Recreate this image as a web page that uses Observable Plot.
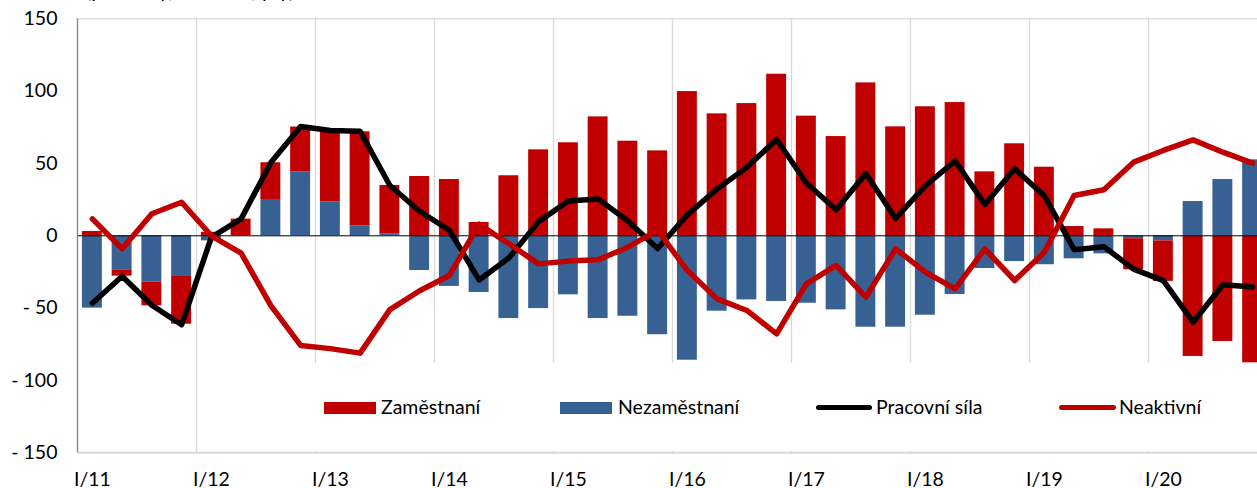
<!DOCTYPE html>
<html>
<head>
<meta charset="utf-8">
<script src="https://cdn.jsdelivr.net/npm/d3@7"></script>
<script src="https://cdn.jsdelivr.net/npm/@observablehq/plot@0.6"></script>
<style>
  html, body { margin: 0; padding: 0; background: #fff; overflow: hidden; }
  #wrap { position: relative; width: 1257px; height: 488px; overflow: hidden; font-family: Lato, "Open Sans", sans-serif; }
  #chart { position: absolute; left: 0; top: 0; width: 1277px; height: 488px; }
  #chart svg { max-width: none !important; width: 1277px !important; height: 488px !important; display: block; }
  #title { position: absolute; left: 86px; top: -20px; font-size: 20px; line-height: 20px; white-space: nowrap; color: #000; }
  #legend { position: absolute; left: 250px; top: 363px; width: 1010px; height: 88px; background: #fff; }
  .lg { position: absolute; }
  .lt { position: absolute; font-size: 19.5px; line-height: 20px; color: #000; white-space: nowrap; }
  svg text { font-family: Lato, "Open Sans", sans-serif; }
</style>
</head>
<body>
<div id="wrap">
  <div id="chart"></div>
  <div id="title">(přírůstky, tis. osob, y/y)</div>
  <div id="legend"></div>
</div>
<script>
// ---- data ----
const quarters = [];
const romans = ["I", "II", "III", "IV"];
const years = ["11", "12", "13", "14", "15", "16", "17", "18", "19", "20"];
for (const yy of years) for (const r of romans) quarters.push(r + "/" + yy);

const zamestnani = [3, -4.4, -16.4, -33.5, 2.4, 11.5, 25.4, 31, 48.6, 65, 33.4, 41, 38.9, 9.2, 41.5, 59.4, 64.3, 82.2, 65.4, 58.7, 99.7, 84.3, 91.4, 111.7, 82.7, 68.6, 105.7, 75.3, 89.2, 92.1, 44.2, 63.6, 47.4, 6.4, 4.8, -21.5, -28, -83.4, -73.1, -87.8];
const nezamestnani = [-50, -23.5, -32, -27.6, -3.5, 0, 25.1, 44.2, 23.5, 6.9, 1.4, -24, -35, -39.2, -57.2, -50.3, -40.8, -57.2, -55.6, -68.4, -86, -52.1, -44.3, -45.4, -46.6, -51.2, -63.2, -63.2, -54.9, -40.6, -22.6, -17.8, -20, -15.9, -12.5, -2, -3.5, 23.7, 38.9, 52.5];
const pracovniSila = [-46.6, -27.9, -48, -61.5, -1, 11.7, 50.6, 75.6, 72.8, 72.3, 34.8, 17, 3.8, -30.5, -15.3, 9.8, 24, 25.5, 10.2, -8.8, 14.5, 32.4, 47.3, 66.7, 36.5, 18, 43, 12, 34.6, 51.8, 21.6, 46.3, 27.7, -9.6, -7.5, -23, -31, -59.7, -33.8, -35.4];
const neaktivni = [11.7, -9, 15.2, 23.2, 0, -12, -48.2, -75.8, -78, -81.1, -51, -38, -27.4, 8, -5.5, -19.4, -17.5, -16.6, -7.9, 3.7, -24, -43.6, -51.6, -67.8, -33.2, -20.5, -42.4, -9, -25.1, -36.7, -9, -30.9, -11.3, 27.9, 31.8, 50.9, 59, 66.3, 57.8, 50.2];
const yTicks = [-150, -100, -50, 0, 50, 100, 150];

const seriesNames = ["Zaměstnaní", "Nezaměstnaní", "Pracovní síla", "Neaktivní"];
const colors = { "Zaměstnaní": "#C00000", "Nezaměstnaní": "#386193", "Pracovní síla": "#000000", "Neaktivní": "#C00000" };

// ---- build tables ----
const bars = [];
quarters.forEach((q, i) => {
  bars.push({ q, s: "Nezaměstnaní", v: nezamestnani[i] });
  bars.push({ q, s: "Zaměstnaní", v: zamestnani[i] });
});
const lf = quarters.map((q, i) => ({ q, v: pracovniSila[i] }));
const ina = quarters.map((q, i) => ({ q, v: neaktivni[i] }));
const yearStarts = quarters.filter(q => q.startsWith("I/"));

// ---- layout ----
const W = 1277, H = 488, ML = 77, MR = 10, MT = 18.3, MB = 35.7;
const step = (W - ML - MR) / quarters.length;

const chart = Plot.plot({
  width: W, height: H,
  marginLeft: ML, marginRight: MR, marginTop: MT, marginBottom: MB,
  style: { fontFamily: "Lato, 'Open Sans', sans-serif", fontSize: "19.5px", color: "#000", background: "#fff", maxWidth: "none" },
  x: { type: "band", domain: quarters, range: [ML, W - MR], round: false, paddingInner: 0.33, paddingOuter: 0.165, align: 0.5, label: null },
  y: { domain: [-150, 150], range: [H - MB, MT], label: null },
  color: { domain: ["Zaměstnaní", "Nezaměstnaní"], range: [colors["Zaměstnaní"], colors["Nezaměstnaní"]] },
  marks: [
    Plot.ruleX(yearStarts, { x: d => d, dx: -step / 2, y1: -150, y2: 150, stroke: "#D9D9D9", strokeWidth: 1.3 }),
    Plot.ruleY([150], { stroke: "#D9D9D9", strokeWidth: 1.3 }),
    Plot.ruleY([-150], { stroke: "#D9D9D9", strokeWidth: 2 }),
    Plot.barY(bars, Plot.stackY({ x: "q", y: "v", z: "s", fill: "s", order: ["Nezaměstnaní", "Zaměstnaní"] })),
    Plot.ruleY([0], { stroke: "#000", strokeWidth: 1 }),
    Plot.ruleX([quarters[0]], { x: d => d, dx: -step / 2, y1: -150, y2: 150, stroke: "#868686", strokeWidth: 1.3 }),
    Plot.lineY(lf, { x: "q", y: "v", stroke: colors["Pracovní síla"], strokeWidth: 5.5, strokeLinejoin: "round", strokeLinecap: "round" }),
    Plot.lineY(ina, { x: "q", y: "v", stroke: colors["Neaktivní"], strokeWidth: 5.5, strokeLinejoin: "round", strokeLinecap: "round" }),
    Plot.axisX({ tickSize: 0, tickPadding: 19.5, tickFormat: d => d.startsWith("I/") ? d : "", fontSize: 19.5 }),
    Plot.axisY(yTicks, { tickSize: 0, tickPadding: 20, tickFormat: d => d < 0 ? "- " + Math.abs(d) : String(d), fontSize: 19.5 })
  ]
});
document.getElementById("chart").appendChild(chart);

// ---- legend ----
const legend = document.getElementById("legend");
const L0 = 250, T0 = 363;
const items = [
  { name: seriesNames[0], kind: "rect", x1: 324, x2: 376, tx: 381 },
  { name: seriesNames[1], kind: "rect", x1: 560, x2: 612, tx: 618 },
  { name: seriesNames[2], kind: "line", x1: 816, x2: 872, tx: 876 },
  { name: seriesNames[3], kind: "line", x1: 1059, x2: 1116, tx: 1119 }
];
const cy = 407.5;
for (const it of items) {
  const sw = document.createElement("div");
  sw.className = "lg";
  sw.style.left = (it.x1 - L0) + "px";
  sw.style.width = (it.x2 - it.x1) + "px";
  sw.style.background = colors[it.name];
  if (it.kind === "rect") {
    sw.style.top = (cy - 6 - T0) + "px";
    sw.style.height = "12px";
  } else {
    sw.style.top = (cy - 2.75 - T0) + "px";
    sw.style.height = "5.5px";
    sw.style.borderRadius = "2.75px";
  }
  legend.appendChild(sw);
  const t = document.createElement("div");
  t.className = "lt";
  t.textContent = it.name;
  t.style.left = (it.tx - L0) + "px";
  t.style.top = (cy - 11 - T0) + "px";
  legend.appendChild(t);
}
</script>
</body>
</html>
